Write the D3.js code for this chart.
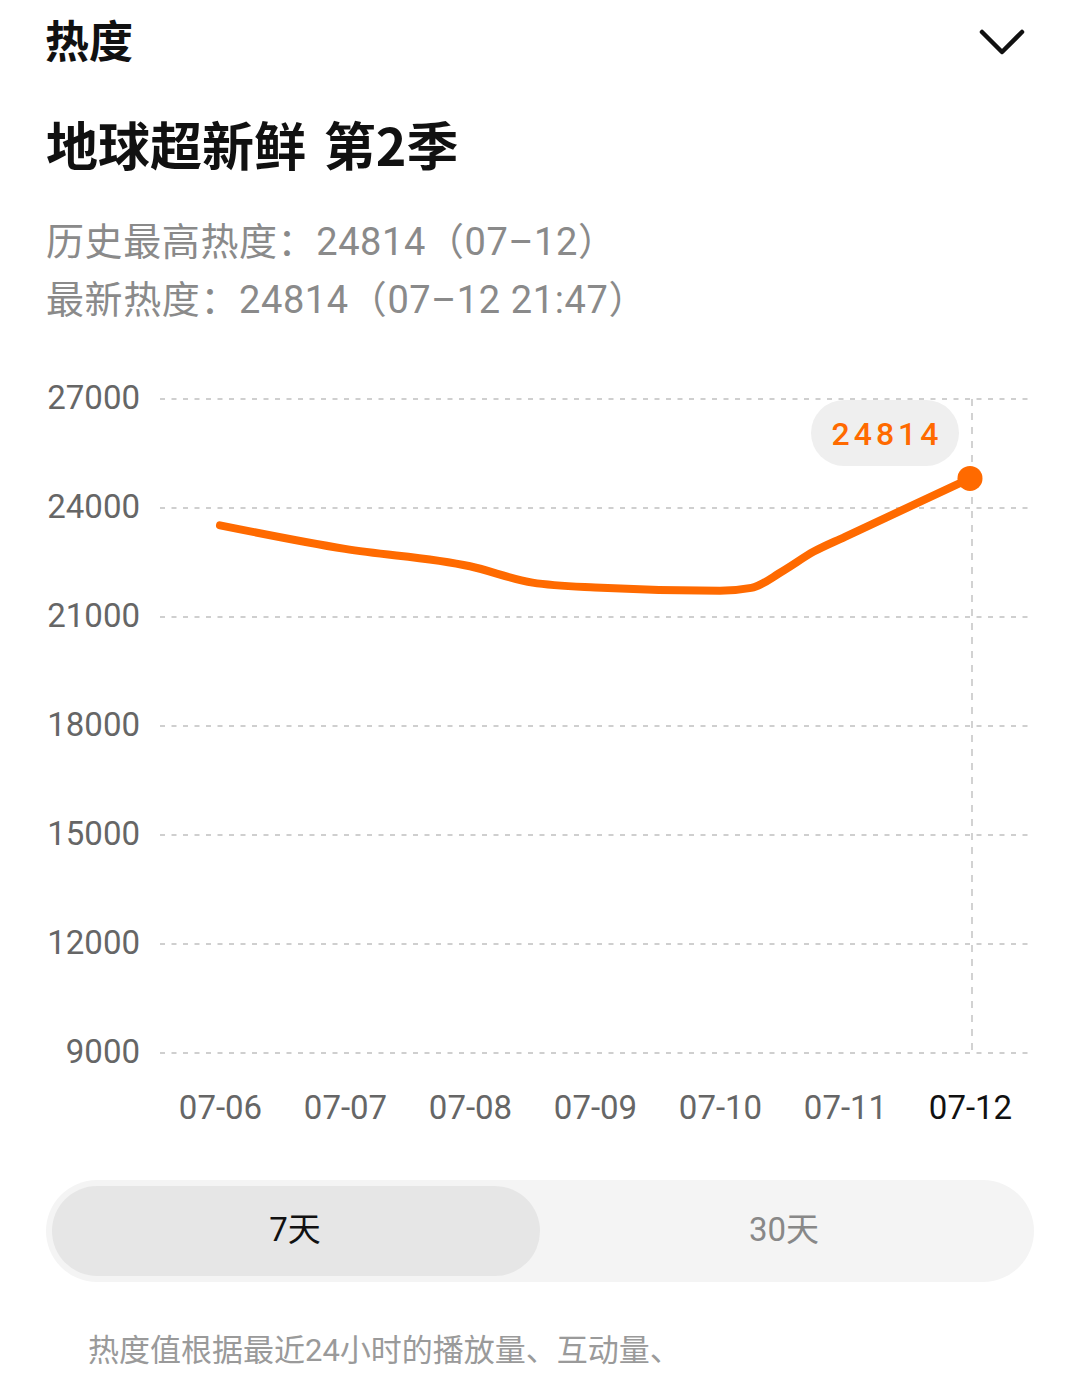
<!DOCTYPE html>
<html><head><meta charset="utf-8">
<script src="https://cdn.jsdelivr.net/npm/d3@7/dist/d3.min.js"></script>
<style>
html,body{margin:0;padding:0;background:#fff;}
svg{display:block;}
</style></head>
<body>
<script>
// ---- data ----
const dayLabels = ["07-06","07-07","07-08","07-09","07-10","07-11","07-12"];
const seriesDays = [0,1,2,2.5,3,4,4.25,4.5,4.75,5,6];
const seriesValues = [23523,22874,22396,21946,21811,21721,21800,22260,22800,23207,24814];
const yTicks = [9000,12000,15000,18000,21000,24000,27000];
const pageTitle = "热度";
const showTitle = "地球超新鲜 第2季";
const infoLines = ["历史最高热度：24814（07–12）","最新热度：24814（07–12 21:47）"];
const peakLabel = "24814";
const rangeOptions = ["7天","30天"];
const footnote = "热度值根据最近24小时的播放量、互动量、";

const W = 1080, H = 1388;
const svg = d3.select("body").append("svg").attr("width", W).attr("height", H);
const cjk = "'Noto Sans CJK SC', 'Noto Sans', sans-serif";
const num = "Roboto, 'Noto Sans CJK SC', sans-serif";

// header
svg.append("text").attr("x",45).attr("y",58).text(pageTitle)
  .attr("font-family",cjk).attr("font-size",44).attr("font-weight",700).attr("fill","#111");
svg.append("path").attr("d","M982,32 L1002,52 L1022,32")
  .attr("fill","none").attr("stroke","#111").attr("stroke-width",4.5)
  .attr("stroke-linecap","round").attr("stroke-linejoin","round");
svg.append("text").attr("x",46).attr("y",166).text(showTitle)
  .attr("font-family",cjk).attr("font-size",52).attr("font-weight",700).attr("fill","#111")
  .attr("word-spacing",6);
infoLines.forEach((t,i)=>{
  svg.append("text").attr("x",46).attr("y",255+i*58).text(t)
    .attr("font-family",num).attr("font-size",38).attr("fill","#8a8a8a").attr("letter-spacing",0.6);
});

// chart
const x = d3.scaleLinear().domain([0,6]).range([220,970]);
const y = d3.scaleLinear().domain([9000,27000]).range([1053,399]);
const gridX0 = 160, gridX1 = 1033;

const grid = svg.append("g");
grid.selectAll("line").data(yTicks).join("line")
  .attr("x1",gridX0).attr("x2",gridX1)
  .attr("y1",d=>y(d)).attr("y2",d=>y(d))
  .attr("stroke","#cfcfcf").attr("stroke-width",2).attr("stroke-dasharray","5,6.5");

const yAxis = d3.axisLeft(y).tickValues(yTicks).tickFormat(d3.format("d")).tickSize(0).tickPadding(0);
const gy = svg.append("g").attr("transform","translate(140,0)").call(yAxis);
gy.select(".domain").remove();
gy.selectAll("text").attr("font-family",num).attr("font-size",33).attr("fill","#666").attr("dy","0.3em");

const xAxis = d3.axisBottom(x).tickValues(d3.range(7)).tickFormat(i=>dayLabels[i]).tickSize(0).tickPadding(0);
const gx = svg.append("g").attr("transform","translate(0,1096)").call(xAxis);
gx.select(".domain").remove();
gx.selectAll("text").attr("font-family",num).attr("font-size",33)
  .attr("fill",(d,i)=>i===6?"#111":"#666").attr("dy","0.71em");

// vertical marker
const lastI = seriesValues.length-1;
svg.append("line").attr("x1",x(seriesDays[lastI])+2).attr("x2",x(seriesDays[lastI])+2)
  .attr("y1",y(27000)).attr("y2",y(9000))
  .attr("stroke","#d2d2d2").attr("stroke-width",2).attr("stroke-dasharray","7,7");

// line
const pts = seriesDays.map((d,i)=>[d,seriesValues[i]]);
const line = d3.line().x(d=>x(d[0])).y(d=>y(d[1])).curve(d3.curveMonotoneX);
svg.append("path").attr("d",line(pts)).attr("fill","none")
  .attr("stroke","#ff6a00").attr("stroke-width",8).attr("stroke-linecap","round").attr("stroke-linejoin","round");
svg.append("circle").attr("cx",x(seriesDays[lastI])).attr("cy",y(seriesValues[lastI])).attr("r",12.5).attr("fill","#ff6a00");

// tooltip pill
const tipCx = 885, tipCy = 433;
svg.append("rect").attr("x",tipCx-74).attr("y",tipCy-33).attr("width",148).attr("height",66)
  .attr("rx",33).attr("fill","#efefef");
svg.append("text").attr("x",tipCx+2).attr("y",tipCy).attr("dy","0.36em").attr("text-anchor","middle")
  .text(peakLabel).attr("font-family",num).attr("font-size",32).attr("font-weight",500)
  .attr("letter-spacing",4).attr("fill","#ff6a00");

// range toggle
svg.append("rect").attr("x",46).attr("y",1180).attr("width",988).attr("height",102).attr("rx",51).attr("fill","#f4f4f4");
svg.append("rect").attr("x",52).attr("y",1186).attr("width",488).attr("height",90).attr("rx",45).attr("fill","#e6e6e6");
svg.append("text").attr("x",295).attr("y",1229).attr("dy","0.36em").attr("text-anchor","middle").text(rangeOptions[0])
  .attr("font-family",num).attr("font-size",33).attr("fill","#111");
svg.append("text").attr("x",784).attr("y",1229).attr("dy","0.36em").attr("text-anchor","middle").text(rangeOptions[1])
  .attr("font-family",num).attr("font-size",33).attr("fill","#888");

// footnote
svg.append("text").attr("x",88).attr("y",1361).text(footnote)
  .attr("font-family",num).attr("font-size",31).attr("fill","#9a9a9a");
</script>
</body></html>
